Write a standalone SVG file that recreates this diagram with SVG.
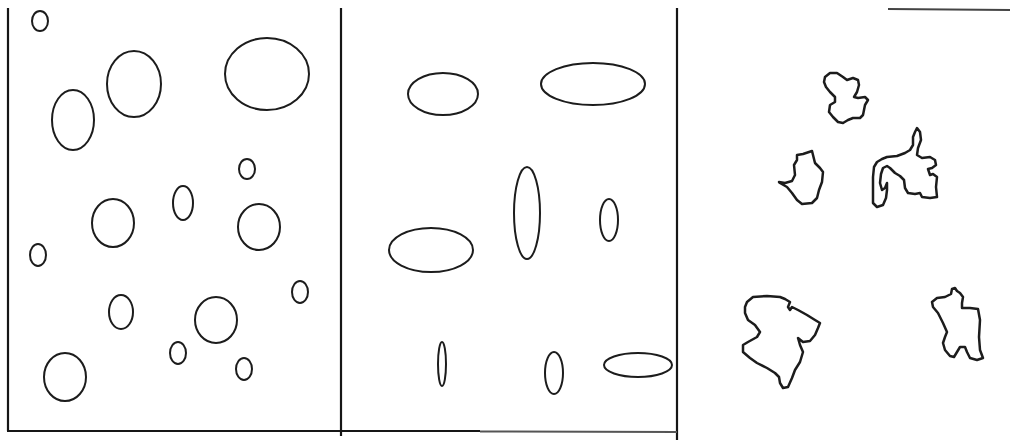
<svg xmlns="http://www.w3.org/2000/svg" width="1010" height="440" viewBox="0 0 1010 440">
<style>
.s{fill:none;stroke:#1c1c1c;stroke-width:2;stroke-linejoin:round;stroke-linecap:round}
.b{fill:none;stroke:#1c1c1c;stroke-width:2.5;stroke-linejoin:round;stroke-linecap:round}
.f{fill:none;stroke:#161616;stroke-width:2.2}
</style>
<rect width="1010" height="440" fill="#ffffff"/>
<g id="frame">
<line class="f" x1="8" y1="8" x2="8" y2="431"/>
<line class="f" x1="341" y1="8" x2="341" y2="436"/>
<line class="f" x1="677" y1="8" x2="677" y2="440"/>
<line class="f" x1="7" y1="431" x2="480" y2="431"/>
<line x1="480" y1="431.5" x2="677" y2="432" stroke="#555" stroke-width="2"/>
<line x1="888" y1="9" x2="1010" y2="10" stroke="#444" stroke-width="2"/>
</g>
<g id="panel1">
<ellipse class="s" cx="40" cy="21" rx="8" ry="10"/>
<ellipse class="s" cx="73" cy="120" rx="21" ry="30"/>
<ellipse class="s" cx="134" cy="84" rx="27" ry="33"/>
<ellipse class="s" cx="267" cy="74" rx="42" ry="36"/>
<ellipse class="s" cx="247" cy="169" rx="8" ry="10"/>
<ellipse class="s" cx="183" cy="203" rx="10" ry="17"/>
<ellipse class="s" cx="113" cy="223" rx="21" ry="24"/>
<ellipse class="s" cx="259" cy="227" rx="21" ry="23"/>
<ellipse class="s" cx="38" cy="255" rx="8" ry="11"/>
<ellipse class="s" cx="300" cy="292" rx="8" ry="11"/>
<ellipse class="s" cx="121" cy="312" rx="12" ry="17"/>
<ellipse class="s" cx="216" cy="320" rx="21" ry="23"/>
<ellipse class="s" cx="178" cy="353" rx="8" ry="11"/>
<ellipse class="s" cx="244" cy="369" rx="8" ry="11"/>
<ellipse class="s" cx="65" cy="377" rx="21" ry="24"/>
</g>
<g id="panel2">
<ellipse class="s" cx="443" cy="94" rx="35" ry="21"/>
<ellipse class="s" cx="593" cy="84" rx="52" ry="21"/>
<ellipse class="s" cx="527" cy="213" rx="13" ry="46"/>
<ellipse class="s" cx="609" cy="220" rx="9" ry="21"/>
<ellipse class="s" cx="431" cy="250" rx="42" ry="22"/>
<ellipse class="s" cx="442" cy="364" rx="4" ry="22"/>
<ellipse class="s" cx="554" cy="373" rx="9" ry="21"/>
<ellipse class="s" cx="638" cy="365" rx="34" ry="12"/>
</g>
<g id="panel3">
<polygon class="b" points="825,77 830,73 837,73 843,77 847,80 853,78 858,80 859,85 857,92 854,97 858,98 865,97 868,100 865,105 863,115 860,118 853,118 848,120 843,123 838,122 833,117 829,112 830,105 835,102 835,97 830,92 826,87 824,82"/>
<polygon class="b" points="797,155 803,154 812,151 813,155 815,163 820,168 823,172 822,182 819,190 817,198 812,203 802,204 797,200 792,193 787,187 780,183 779,182 785,183 792,181 795,175 794,165 797,160"/>
<polygon class="b" points="917,128 920,132 921,140 918,148 917,155 922,158 930,157 935,160 936,165 932,168 928,169 930,175 933,174 937,177 936,187 937,197 930,198 922,197 920,193 915,194 908,193 905,188 904,180 900,176 895,173 890,168 887,166 883,168 881,174 880,183 882,190 885,188 887,183 887,190 886,198 883,205 877,207 873,203 873,190 873,177 874,167 877,162 882,159 887,157 897,156 905,153 910,150 913,145 913,137 915,132"/>
<polygon class="b" points="747,302 753,297 767,296 780,297 785,299 790,302 788,307 790,310 792,307 798,310 807,315 815,320 820,323 818,328 815,335 810,341 803,342 798,338 800,345 803,352 800,362 795,370 792,378 788,387 783,388 780,383 779,377 775,373 767,368 757,363 750,358 743,352 743,345 748,342 757,337 760,332 755,325 748,320 745,313 745,307"/>
<polygon class="b" points="932,302 937,298 945,297 951,294 952,289 955,288 957,291 960,293 963,297 962,303 962,308 970,308 978,309 980,320 979,337 980,350 983,358 977,360 970,358 967,352 965,347 960,347 957,352 954,357 950,356 945,350 943,343 945,337 947,332 943,323 938,313 933,307"/>
</g>
</svg>
